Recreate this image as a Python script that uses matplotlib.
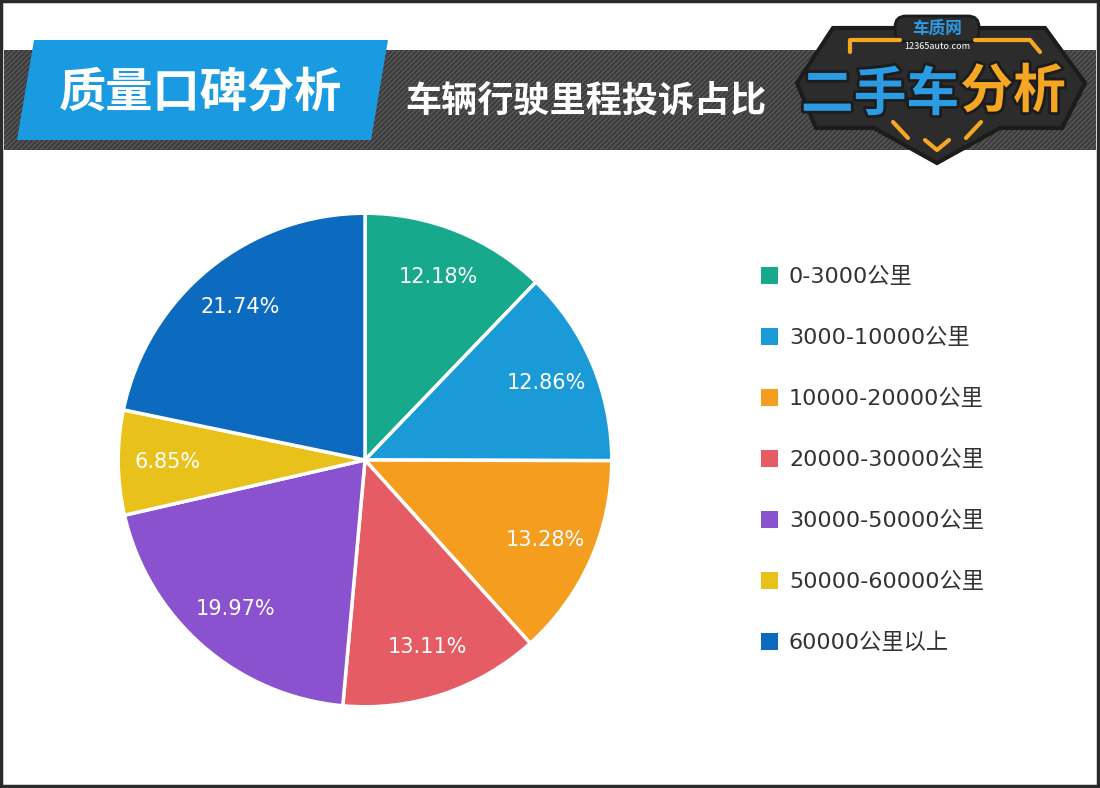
import matplotlib
matplotlib.use("Agg")
import matplotlib.pyplot as plt
import matplotlib.patheffects as pe
from matplotlib.patches import Polygon, Rectangle, FancyBboxPatch
import numpy as np

plt.rcParams['font.family'] = ['Noto Sans CJK SC', 'DejaVu Sans']
latin_first = ['DejaVu Sans', 'Noto Sans CJK SC']

# data
categories = ["0-3000公里", "3000-10000公里", "10000-20000公里", "20000-30000公里",
              "30000-50000公里", "50000-60000公里", "60000公里以上"]
shares = [12.18, 12.86, 13.28, 13.11, 19.97, 6.85, 21.74]
colors = ["#16a98b", "#1b9ad8", "#f49d1f", "#e65c64", "#8a52cf", "#e9c11b", "#0d6bbf"]

title = "质量口碑分析"
subtitle = "车辆行驶里程投诉占比"

W, H = 1100, 788
fig = plt.figure(figsize=(W / 100, H / 100), dpi=100)
fig.patch.set_facecolor("white")

# overlay in pixel coordinates for the banner / frame
bg = fig.add_axes([0, 0, 1, 1])
bg.set_xlim(0, W)
bg.set_ylim(H, 0)
bg.axis("off")

# outer frame
bg.add_patch(Rectangle((1, 1), W - 3, H - 3, fill=False, edgecolor="#2b2b2b", lw=2.5, zorder=10))

# striped dark band
band = Rectangle((4, 50), W - 8, 100, facecolor="#3a3a3a", edgecolor="none", zorder=1)
bg.add_patch(band)
for off in np.arange(-120, W + 20, 5):
    ln, = bg.plot([off, off + 100], [150, 50], color="#565656", lw=1.2, zorder=2)
    ln.set_clip_path(band)

# blue tab
bg.add_patch(Polygon([(34, 40), (388, 40), (371, 140), (17, 140)],
                     closed=True, facecolor="#1a9ae0", edgecolor="none", zorder=3))
bg.text(201, 92, title, color="white", fontsize=34, fontweight="bold",
        ha="center", va="center", zorder=4)
bg.text(405, 101, subtitle, color="white", fontsize=26, fontweight="bold",
        ha="left", va="center", zorder=4)

# logo
shield = [(833, 28), (1045, 28), (1085, 83), (1062, 128), (1000, 128),
          (937, 163), (874, 128), (816, 128), (797, 83)]
bg.add_patch(Polygon(shield, closed=True, facecolor="#2c2c2c",
                     edgecolor="#1c1c1c", lw=3, zorder=5))
bg.add_patch(FancyBboxPatch((895, 16), 84, 26, boxstyle="round,pad=0,rounding_size=11",
                            facecolor="#2c2c2c", edgecolor="#1c1c1c", lw=2, zorder=5))
orange = "#f5a623"
for seg in [[(850, 52), (850, 40), (900, 40)], [(975, 40), (1030, 40), (1040, 52)],
            [(893, 122), (908, 138)], [(981, 122), (966, 138)],
            [(925, 140), (937, 150), (949, 140)]]:
    xs, ys = zip(*seg)
    bg.plot(xs, ys, color=orange, lw=3, solid_capstyle="round", zorder=6)
bg.text(937, 29, "车质网", color="#2b9be3", fontsize=12, fontweight="bold",
        ha="center", va="center", zorder=7)
bg.text(937, 46, "12365auto.com", color="white", fontsize=6.5,
        ha="center", va="center", zorder=7)
outline = [pe.withStroke(linewidth=4, foreground="#1c1c1c")]
bg.text(880, 95, "二手车", color="#2b9be3", fontsize=38, fontweight="bold",
        fontstyle="italic", ha="center", va="center", path_effects=outline, zorder=7)
bg.text(1013, 92, "分析", color=orange, fontsize=38, fontweight="bold",
        fontstyle="italic", ha="center", va="center", path_effects=outline, zorder=7)

# pie
cx, cy, r = 365, 460, 248
ax = fig.add_axes([(cx - r) / W, 1 - (cy + r) / H, 2 * r / W, 2 * r / H])
wedges, texts, autotexts = ax.pie(
    shares, colors=colors, startangle=90, counterclock=False,
    autopct=lambda p: f"{p:.2f}%", pctdistance=0.8, radius=1,
    wedgeprops=dict(edgecolor="white", linewidth=2.5),
    textprops=dict(color="white", fontsize=15, family=latin_first))
ax.set_xlim(-1.005, 1.005)
ax.set_ylim(-1.005, 1.005)
ax.set_aspect("equal")

leg = ax.legend(wedges, categories, loc="upper left",
                bbox_to_anchor=(750 / W, 1 - 256 / H), bbox_transform=fig.transFigure,
                frameon=False, prop=dict(family=latin_first, size=16),
                handlelength=0.75, handleheight=0.75,
                handletextpad=0.5, labelspacing=1.84, borderpad=0)
for t in leg.get_texts():
    t.set_color("#333333")
for h in leg.legend_handles:
    h.set_linewidth(0)

fig.savefig("out.png", dpi=100)
